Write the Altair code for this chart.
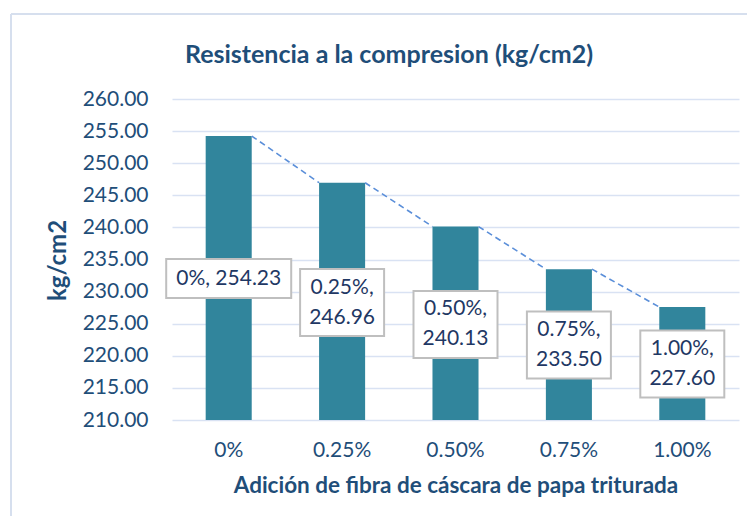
import altair as alt
import pandas as pd

# ---- data ----
categories = ["0%", "0.25%", "0.50%", "0.75%", "1.00%"]
values = [254.23, 246.96, 240.13, 233.50, 227.60]
# where Excel placed each data label box (in data units along the y scale)
label_anchor = [232.04, 228.30, 224.88, 221.68, 218.72]
label_lines = [1, 2, 2, 2, 2]
y_ticks = [210, 215, 220, 225, 230, 235, 240, 245, 250, 255, 260]
title_text = "Resistencia a la compresion (kg/cm2)"

# ---- styling ----
FONT = "Lato"
NAVY = "#1F4E79"
LABEL_NAVY = "#1F3864"
BAR = "#31859C"
GRID = "#D9E2F3"
BOX_W = [125, 84, 84, 84, 84]
BOX_H = [39, 67, 67, 67, 67]
LINE_H = 30

W, H = 567, 321

bars_df = pd.DataFrame({"cat": categories, "val": values})

texts = []
shapes = []
sizes = []
for c, v, n, bw, bh in zip(categories, values, label_lines, BOX_W, BOX_H):
    sep = ", " if n == 1 else ",\n"
    texts.append(f"{c}{sep}{v:.2f}")
    r = bh / bw
    shapes.append(f"M-1,-{r:.4f}L1,-{r:.4f}L1,{r:.4f}L-1,{r:.4f}Z")
    sizes.append(bw * bw)
labels_df = pd.DataFrame({"cat": categories, "ly": label_anchor, "txt": texts,
                          "shape": shapes, "size": sizes, "n": label_lines})

seg_df = pd.DataFrame({
    "cat": categories[:-1], "cat2": categories[1:],
    "v": values[:-1], "v2": values[1:],
})

xscale = alt.Scale(domain=categories, paddingInner=0.594, paddingOuter=0.297)
yscale = alt.Scale(domain=[210, 260], nice=False, zero=False)

x_axis = alt.Axis(title="Adición de fibra de cáscara de papa triturada",
                  domain=False, ticks=False, tickSize=0, labelAngle=0,
                  labelFont=FONT, labelFontSize=21, labelColor=NAVY,
                  labelPadding=19, titleFont=FONT, titleFontSize=22.5,
                  titleFontWeight="bold", titleColor=NAVY, titlePadding=14)
y_axis = alt.Axis(title="kg/cm2", values=y_ticks, format=".2f",
                  labelOverlap=False,
                  domain=False, ticks=False, tickSize=0,
                  labelFont=FONT, labelFontSize=21, labelColor=NAVY,
                  labelPadding=24, grid=True, gridColor=GRID, gridWidth=1.5,
                  titleFont=FONT, titleFontSize=24, titleFontWeight="bold",
                  titleColor=NAVY, titleAngle=-90, titleX=-114, titleY=161,
                  titleAlign="center", titleBaseline="middle")


def X(field, **kw):
    return alt.X(field, scale=xscale, sort=categories, axis=x_axis, **kw)


def Y(field):
    return alt.Y(field, scale=yscale, axis=y_axis)


bars = alt.Chart(bars_df).mark_bar(color=BAR, clip=True).encode(
    x=X("cat:N"), y=Y("val:Q"),
)

series_lines = alt.Chart(seg_df).mark_rule(
    color="#5B8FD9", strokeWidth=1.6, strokeDash=[6, 4]
).encode(
    x=X("cat:N", bandPosition=1),
    x2=alt.X2("cat2", bandPosition=0),
    y=Y("v:Q"),
    y2=alt.Y2("v2"),
)

boxes = alt.Chart(labels_df).mark_point(
    filled=True, fill="white", stroke="#BFBFBF", strokeWidth=2, opacity=1
).encode(
    x=X("cat:N"), y=Y("ly:Q"),
    shape=alt.Shape("shape:N", scale=None),
    size=alt.Size("size:Q", scale=None),
)

text_1 = alt.Chart(labels_df).transform_filter("datum.n == 1").mark_text(
    font=FONT, fontSize=21, color=LABEL_NAVY, lineBreak="\n",
    lineHeight=LINE_H, align="center", baseline="middle"
).encode(x=X("cat:N"), y=Y("ly:Q"), text="txt:N")

text_2 = alt.Chart(labels_df).transform_filter("datum.n == 2").mark_text(
    font=FONT, fontSize=21, color=LABEL_NAVY, lineBreak="\n",
    lineHeight=LINE_H, align="center", baseline="middle", dy=-LINE_H / 2
).encode(x=X("cat:N"), y=Y("ly:Q"), text="txt:N")

one = pd.DataFrame({"t": [title_text]})
title_mark = alt.Chart(one).mark_text(
    font=FONT, fontSize=25, fontWeight="bold", color=NAVY,
    align="center", baseline="middle"
).encode(x=alt.value(217), y=alt.value(-44), text="t:N")

# outer chart-area border (left and top edges visible in the reference)
border_v = alt.Chart(one).mark_rule(color="#D6DFEE", strokeWidth=2).encode(
    x=alt.value(-161), y=alt.value(-85), y2=alt.value(420))
border_h = alt.Chart(one).mark_rule(color="#D6DFEE", strokeWidth=2).encode(
    x=alt.value(-161), x2=alt.value(580), y=alt.value(-85))

chart = alt.layer(border_v, border_h, bars, series_lines, boxes, text_1, text_2,
                  title_mark).properties(
    width=W, height=H,
    background="white",
    autosize=alt.AutoSizeParams(type="none"),
    padding={"left": 164, "top": 91, "right": 8, "bottom": 96},
).configure_view(strokeWidth=0, stroke="transparent")

chart.save("out.html", embed_options={"renderer": "svg", "actions": False})
